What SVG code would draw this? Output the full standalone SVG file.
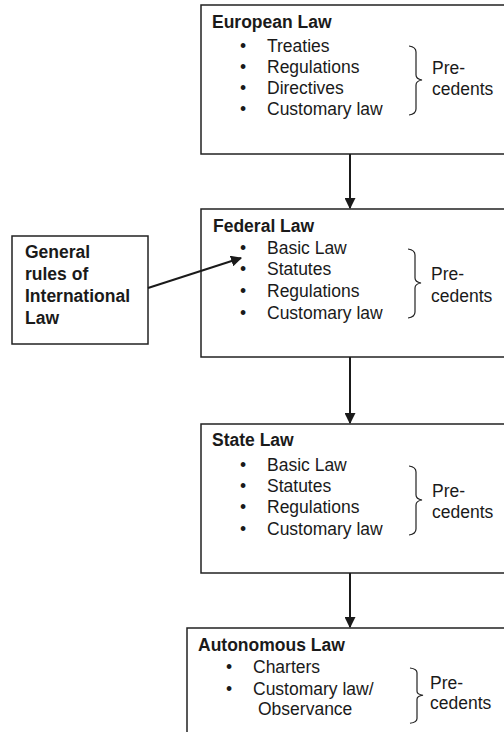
<svg xmlns="http://www.w3.org/2000/svg" width="504" height="732" viewBox="0 0 504 732">
<style>
.box{fill:#fff;stroke:#222;stroke-width:1.5}
.t{font-family:"Liberation Sans",Arial,sans-serif;font-size:17.5px;fill:#1a1a1a}
.b{font-weight:bold}
.br{fill:none;stroke:#222;stroke-width:1.2}
.c{stroke:#1a1a1a;stroke-width:2;fill:none}
</style>
<defs>
<marker id="ah" viewBox="0 0 10 10" refX="9" refY="5" markerWidth="5.5" markerHeight="5.5" orient="auto" markerUnits="strokeWidth">
<path d="M0,0 L10,5 L0,10 z" fill="#1a1a1a"/>
</marker>
<g id="brace"><path class="br" d="M0,0 Q7,1 7,6 L7,29 Q7,33 13,34 Q7,35 7,39 L7,63 Q7,68 0,69"/></g>
</defs>
<g id="european">
<rect class="box" x="201" y="5" width="320" height="149"/>
<text class="t b" x="212" y="28">European Law</text>
<g class="t"><text x="240" y="52">•</text><text x="267" y="52">Treaties</text>
<text x="240" y="73">•</text><text x="267" y="73">Regulations</text>
<text x="240" y="94">•</text><text x="267" y="94">Directives</text>
<text x="240" y="115">•</text><text x="267" y="115">Customary law</text>
<text x="432" y="74">Pre-</text><text x="432" y="95">cedents</text></g>
<use href="#brace" x="409" y="46"/>
</g>
<g id="federal">
<rect class="box" x="201" y="209" width="320" height="148"/>
<text class="t b" x="213" y="232">Federal Law</text>
<g class="t"><text x="240" y="254">•</text><text x="267" y="254">Basic Law</text>
<text x="240" y="275">•</text><text x="267" y="275">Statutes</text>
<text x="240" y="297">•</text><text x="267" y="297">Regulations</text>
<text x="240" y="319">•</text><text x="267" y="319">Customary law</text>
<text x="431" y="280">Pre-</text><text x="431" y="302">cedents</text></g>
<use href="#brace" x="408" y="249"/>
</g>
<g id="state">
<rect class="box" x="201" y="424" width="320" height="149"/>
<text class="t b" x="212" y="446">State Law</text>
<g class="t"><text x="240" y="471">•</text><text x="267" y="471">Basic Law</text>
<text x="240" y="492">•</text><text x="267" y="492">Statutes</text>
<text x="240" y="513">•</text><text x="267" y="513">Regulations</text>
<text x="240" y="535">•</text><text x="267" y="535">Customary law</text>
<text x="432" y="497">Pre-</text><text x="432" y="518">cedents</text></g>
<use href="#brace" x="409" y="466"/>
</g>
<g id="autonomous">
<rect class="box" x="187" y="628" width="340" height="120"/>
<text class="t b" x="198" y="651">Autonomous Law</text>
<g class="t"><text x="226" y="673">•</text><text x="253" y="673">Charters</text>
<text x="226" y="695">•</text><text x="253" y="695">Customary law/</text>
<text x="258" y="715">Observance</text>
<text x="430" y="689">Pre-</text><text x="430" y="709">cedents</text></g>
<g transform="translate(410,668) scale(1,0.8)"><path class="br" d="M0,0 Q7,1 7,6 L7,29 Q7,33 13,34 Q7,35 7,39 L7,63 Q7,68 0,69"/></g>
</g>
<g id="general">
<rect class="box" x="12" y="236" width="136" height="108"/>
<g class="t b"><text x="25" y="258">General</text>
<text x="25" y="280">rules of</text>
<text x="25" y="302">International</text>
<text x="25" y="324">Law</text></g>
</g>
<g id="connectors">
<line class="c" x1="350" y1="154" x2="350" y2="208" marker-end="url(#ah)"/>
<line class="c" x1="350" y1="357" x2="350" y2="423" marker-end="url(#ah)"/>
<line class="c" x1="350" y1="573" x2="350" y2="627" marker-end="url(#ah)"/>
<line class="c" x1="148" y1="288" x2="241" y2="258" marker-end="url(#ah)"/>
</g>
</svg>
